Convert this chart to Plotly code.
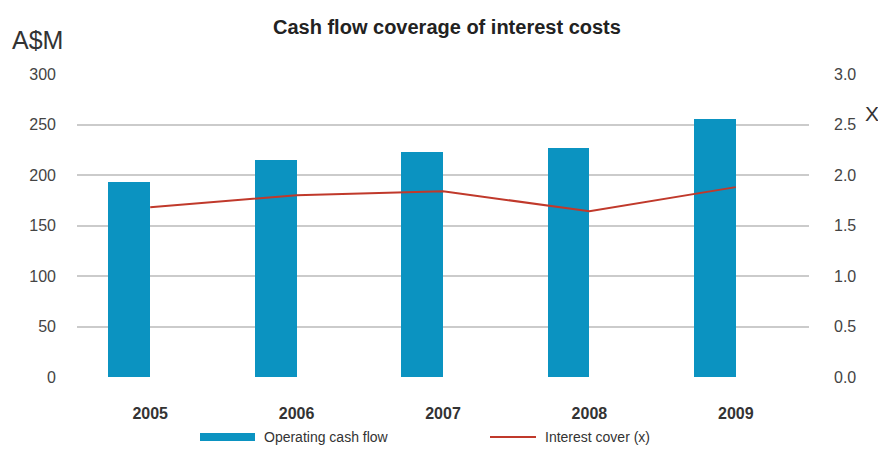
import plotly.graph_objects as go

years = ["2005", "2006", "2007", "2008", "2009"]
cash_flow = [193, 215, 223, 227, 255]
interest_cover = [1.68, 1.80, 1.84, 1.64, 1.88]
left_ticks = [0, 50, 100, 150, 200, 250, 300]
right_ticks = [0.0, 0.5, 1.0, 1.5, 2.0, 2.5, 3.0]

FONT = "Liberation Sans Narrow, Arial Narrow, Liberation Sans, sans-serif"
BAR_COLOR = "#0b93c1"
LINE_COLOR = "#c0392b"

fig = go.Figure()
fig.add_trace(go.Bar(
    x=years, y=cash_flow, name="Operating cash flow",
    marker=dict(color=BAR_COLOR, line=dict(width=0)),
    width=0.285, offset=-0.285, showlegend=False,
))
fig.add_trace(go.Scatter(
    x=years, y=interest_cover, name="Interest cover (x)", yaxis="y2",
    mode="lines", line=dict(color=LINE_COLOR, width=2), showlegend=False,
))

fig.update_layout(
    width=878, height=449,
    margin=dict(l=77, r=69, t=74, b=72),
    paper_bgcolor="white", plot_bgcolor="white",
    font=dict(family=FONT, color="#444"),
    bargap=0,
    xaxis=dict(
        type="category", showgrid=False, zeroline=False, showline=False,
        tickfont=dict(size=16, color="#333", family=FONT, weight="bold"),
        ticklabelstandoff=25, ticks="",
    ),
    yaxis=dict(
        range=[0, 300], tickvals=left_ticks,
        showgrid=True, gridcolor="#cbcbcb", gridwidth=2,
        zeroline=False, showline=False,
        tickfont=dict(size=16, color="#444"), ticklabelstandoff=20,
    ),
    yaxis2=dict(
        range=[0, 3], tickvals=right_ticks, tickformat=".1f",
        overlaying="y", side="right", showgrid=False, zeroline=False,
        tickfont=dict(size=16, color="#444"), ticklabelstandoff=24,
    ),
    annotations=[
        dict(text="<b>Cash flow coverage of interest costs</b>", x=447, y=27,
             xanchor="center", yanchor="middle", showarrow=False,
             font=dict(size=20, color="#222", family=FONT)),
        dict(text="A$M", x=10, y=40, xanchor="left", yanchor="middle",
             showarrow=False, font=dict(size=25, color="#333", family=FONT)),
        dict(text="X", x=872, y=113, xanchor="center", yanchor="middle",
             showarrow=False, font=dict(size=21, color="#333", family="Liberation Sans, Arial, sans-serif")),
        dict(text="Operating cash flow", x=262, y=437, xanchor="left", yanchor="middle",
             showarrow=False, font=dict(size=14, color="#333", family=FONT)),
        dict(text="Interest cover (x)", x=543, y=437, xanchor="left", yanchor="middle",
             showarrow=False, font=dict(size=14, color="#333", family=FONT)),
    ],
    shapes=[
        dict(type="rect", x0=200, x1=255, y0=433, y1=441, fillcolor=BAR_COLOR,
             line=dict(width=0)),
        dict(type="line", x0=490, x1=536, y0=437, y1=437,
             line=dict(color=LINE_COLOR, width=2)),
    ],
)

# convert pixel-positioned annotations/shapes to paper coordinates
W, H = 878, 449
ml, mr, mt, mb = 77, 69, 74, 72
pw, ph = W - ml - mr, H - mt - mb
def px(x):
    return (x - ml) / pw
def py(y):
    return (H - mb - y) / ph

anns = []
for a in fig.layout.annotations:
    a.update(x=px(a.x), y=py(a.y), xref="paper", yref="paper")
    anns.append(a)
fig.layout.annotations = anns
shps = []
for s in fig.layout.shapes:
    s.update(x0=px(s.x0), x1=px(s.x1), y0=py(s.y0), y1=py(s.y1), xref="paper", yref="paper")
    shps.append(s)
fig.layout.shapes = shps

fig.write_html("out.html")
